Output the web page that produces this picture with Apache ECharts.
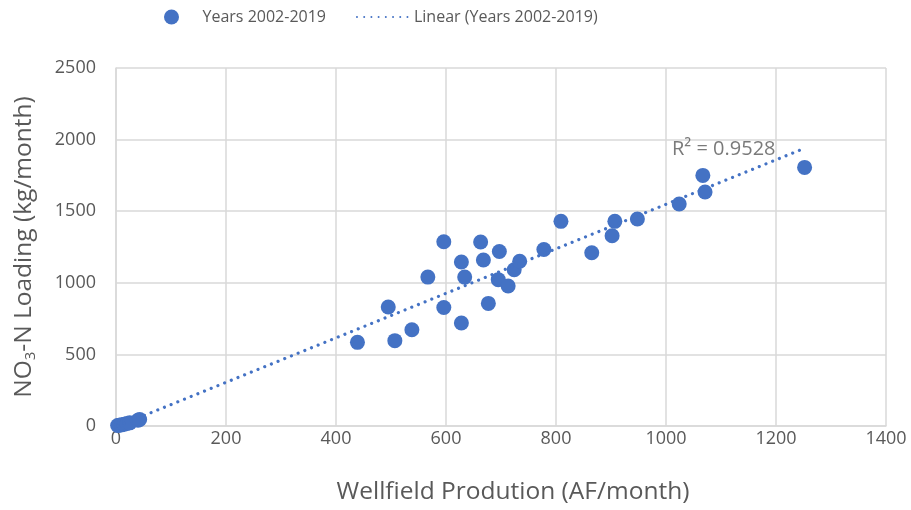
<!DOCTYPE html>
<html>
<head>
<meta charset="utf-8">
<script src="https://cdn.jsdelivr.net/npm/echarts@6/dist/echarts.min.js"></script>
<style>html,body{margin:0;padding:0;background:#fff;}#c{width:911px;height:510px;}</style>
</head>
<body>
<div id="c"></div>
<script>
const seriesName = 'Years 2002-2019';
const trendName = 'Linear (Years 2002-2019)';
const production = [3, 6, 10, 15, 20, 25, 40, 43,
  439, 495, 507, 538, 567, 596, 596, 628, 628, 634, 663, 668, 677, 697, 695, 713, 724, 734,
  778, 809, 865, 902, 907, 948, 1024, 1067, 1071, 1252];
const loading = [3, 6, 8, 12, 18, 22, 40, 45,
  584, 831, 596, 672, 1040, 1287, 828, 1145, 719, 1040, 1285, 1159, 856, 1219, 1022, 978, 1091, 1150,
  1233, 1429, 1210, 1329, 1429, 1446, 1550, 1750, 1634, 1806];
const trendSlope = 1.554;
const trendIntercept = -6;
const r2Label = 'R² = 0.9528';
const r2Anchor = [1105, 1930];
const xTicks = [0, 200, 400, 600, 800, 1000, 1200, 1400];
const yTicks = [0, 500, 1000, 1500, 2000, 2500];

const pts = production.map((x, i) => [x, loading[i]]);
const xMin = Math.min(...production), xMax = Math.max(...production);
const trend = [[xMin, trendSlope * xMin + trendIntercept], [xMax, trendSlope * xMax + trendIntercept]];

const font = '"Open Sans", "Liberation Sans", sans-serif';
const txt = '#595959';
const gridCol = '#d9d9d9';
const blue = '#4472C4';

const chart = echarts.init(document.getElementById('c'));
chart.setOption({
  animation: false,
  textStyle: { fontFamily: font },
  legend: {
    top: 4, left: 159,
    itemGap: 30,
    itemWidth: 52, itemHeight: 15,
    textStyle: { color: txt, fontSize: 16, fontFamily: font },
    data: [
      { name: seriesName, icon: 'circle', itemStyle: { color: blue } },
      { name: trendName, itemStyle: { opacity: 0 } }
    ]
  },
  grid: { left: 116, right: 25, top: 68, bottom: 84 },
  xAxis: {
    type: 'value', min: xTicks[0], max: xTicks[xTicks.length - 1], interval: 200,
    name: 'Wellfield Prodution (AF/month)', nameLocation: 'middle', nameGap: 54,
    nameTextStyle: { color: txt, fontSize: 24.5, fontFamily: font, padding: [0, 0, 0, 24] },
    axisLine: { show: true, lineStyle: { color: gridCol, width: 1.5 } },
    axisTick: { show: false },
    axisLabel: { color: txt, fontSize: 18, margin: 4, fontFamily: font, formatter: v => String(v) },
    splitLine: { show: true, lineStyle: { color: gridCol, width: 1.5 } }
  },
  yAxis: {
    type: 'value', min: yTicks[0], max: yTicks[yTicks.length - 1], interval: 500,
    name: '{a|NO}{s|3}{a|-N Loading (kg/month)}', nameLocation: 'middle', nameGap: 77,
    nameTextStyle: {
      color: txt, fontSize: 24.5, fontFamily: font,
      rich: {
        a: { color: txt, fontSize: 24.5, fontFamily: font, lineHeight: 30 },
        s: { color: txt, fontSize: 15, fontFamily: font, padding: [13, 0, 0, 0], lineHeight: 30 }
      }
    },
    axisLine: { show: true, lineStyle: { color: gridCol, width: 1.5 } },
    axisTick: { show: false },
    axisLabel: { color: txt, fontSize: 18, margin: 20, fontFamily: font, formatter: v => String(v) },
    splitLine: { show: true, lineStyle: { color: gridCol, width: 1.5 } }
  },
  series: [
    {
      name: seriesName, type: 'scatter', data: pts,
      symbol: 'circle', symbolSize: 15,
      itemStyle: { color: blue, opacity: 1 },
      z: 3
    },
    {
      name: trendName, type: 'line', data: trend,
      showSymbol: false, symbol: 'none',
      lineStyle: { color: blue, width: 3.2, type: [0.01, 7.2], cap: 'round' },
      itemStyle: { color: blue },
      z: 4
    },
    {
      name: 'r2', type: 'scatter', data: [r2Anchor],
      symbolSize: 0, silent: true, z: 5,
      label: { show: true, position: 'inside', formatter: r2Label, color: txt, fontSize: 20, fontFamily: font }
    }
  ]
});
</script>
</body>
</html>
